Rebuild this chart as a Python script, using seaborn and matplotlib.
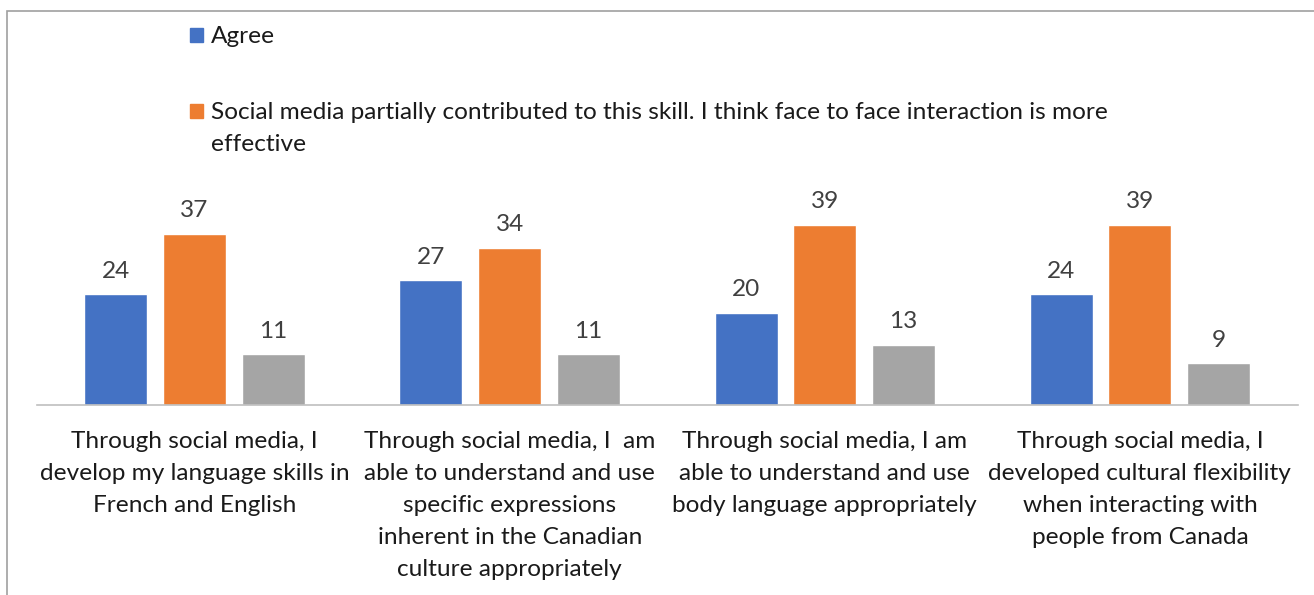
import matplotlib
matplotlib.use("Agg")
import matplotlib.pyplot as plt
import seaborn as sns
import pandas as pd
from matplotlib.patches import Rectangle

categories = [
    "Through social media, I\ndevelop my language skills in\nFrench and English",
    "Through social media, I  am\nable to understand and use\nspecific expressions\ninherent in the Canadian\nculture appropriately",
    "Through social media, I am\nable to understand and use\nbody language appropriately",
    "Through social media, I\ndeveloped cultural flexibility\nwhen interacting with\npeople from Canada",
]
series_names = [
    "Agree",
    "Social media partially contributed to this skill. I think face to face interaction is more\neffective",
    "Disagree",
]
agree = [24, 27, 20, 24]
partial = [37, 34, 39, 39]
disagree = [11, 11, 13, 9]
colors = ["#4472C4", "#ED7D31", "#A5A5A5"]

sns.set_theme(style="white")
plt.rcParams["font.family"] = ["Lato", "DejaVu Sans"]

rows = []
for name, vals in zip(series_names, [agree, partial, disagree]):
    for c, v in zip(categories, vals):
        rows.append({"cat": c, "series": name, "value": v})
df = pd.DataFrame(rows)

FS = 17.6
W, H = 1314, 595
fig = plt.figure(figsize=(W / 100, H / 100), dpi=100)
ax = fig.add_axes([37 / W, 1 - 405 / H, (1297.5 - 37) / W, (405 - 197) / H])

sns.barplot(data=df, x="cat", y="value", hue="series", order=categories,
            hue_order=series_names, palette=colors, width=0.75, gap=0.2,
            saturation=1, legend=False, ax=ax)

for cont in ax.containers:
    lbls = ax.bar_label(cont, padding=9, fontsize=FS, color="#404040")
    for t in lbls:
        t.set_clip_on(False)

ax.set_ylim(0, 45)
ax.set_xlim(-0.5, 3.5)
ax.set_xlabel("")
ax.set_ylabel("")
ax.set_yticks([])
for s in ["top", "right", "left"]:
    ax.spines[s].set_visible(False)
ax.spines["bottom"].set_color("#BFBFBF")
ax.spines["bottom"].set_linewidth(1.2)
ax.tick_params(axis="x", length=0, pad=19, labelsize=FS, labelcolor="#1a1a1a")
for t in ax.get_xticklabels():
    t.set_linespacing(1.64)
    t.set_va("top")

# chart frame (cropped Excel chart area)
fig.patches.append(Rectangle((7 / W, -0.1), 1.2, 1 - 11 / H + 0.1,
                             transform=fig.transFigure, fill=False,
                             edgecolor="#A0A0A0", linewidth=1.2))

# legend (two visible entries)
leg_items = [(series_names[0], colors[0], 35), (series_names[1], colors[1], 111)]
for name, col, yc in leg_items:
    fig.patches.append(Rectangle((190 / W, 1 - (yc + 7) / H), 13 / W, 14 / H,
                                 transform=fig.transFigure, color=col))
    fig.text(211 / W, 1 - (yc - 9) / H, name, fontsize=FS, va="top",
             ha="left", linespacing=1.65, color="#1a1a1a")

fig.savefig("out.png", dpi=100)
